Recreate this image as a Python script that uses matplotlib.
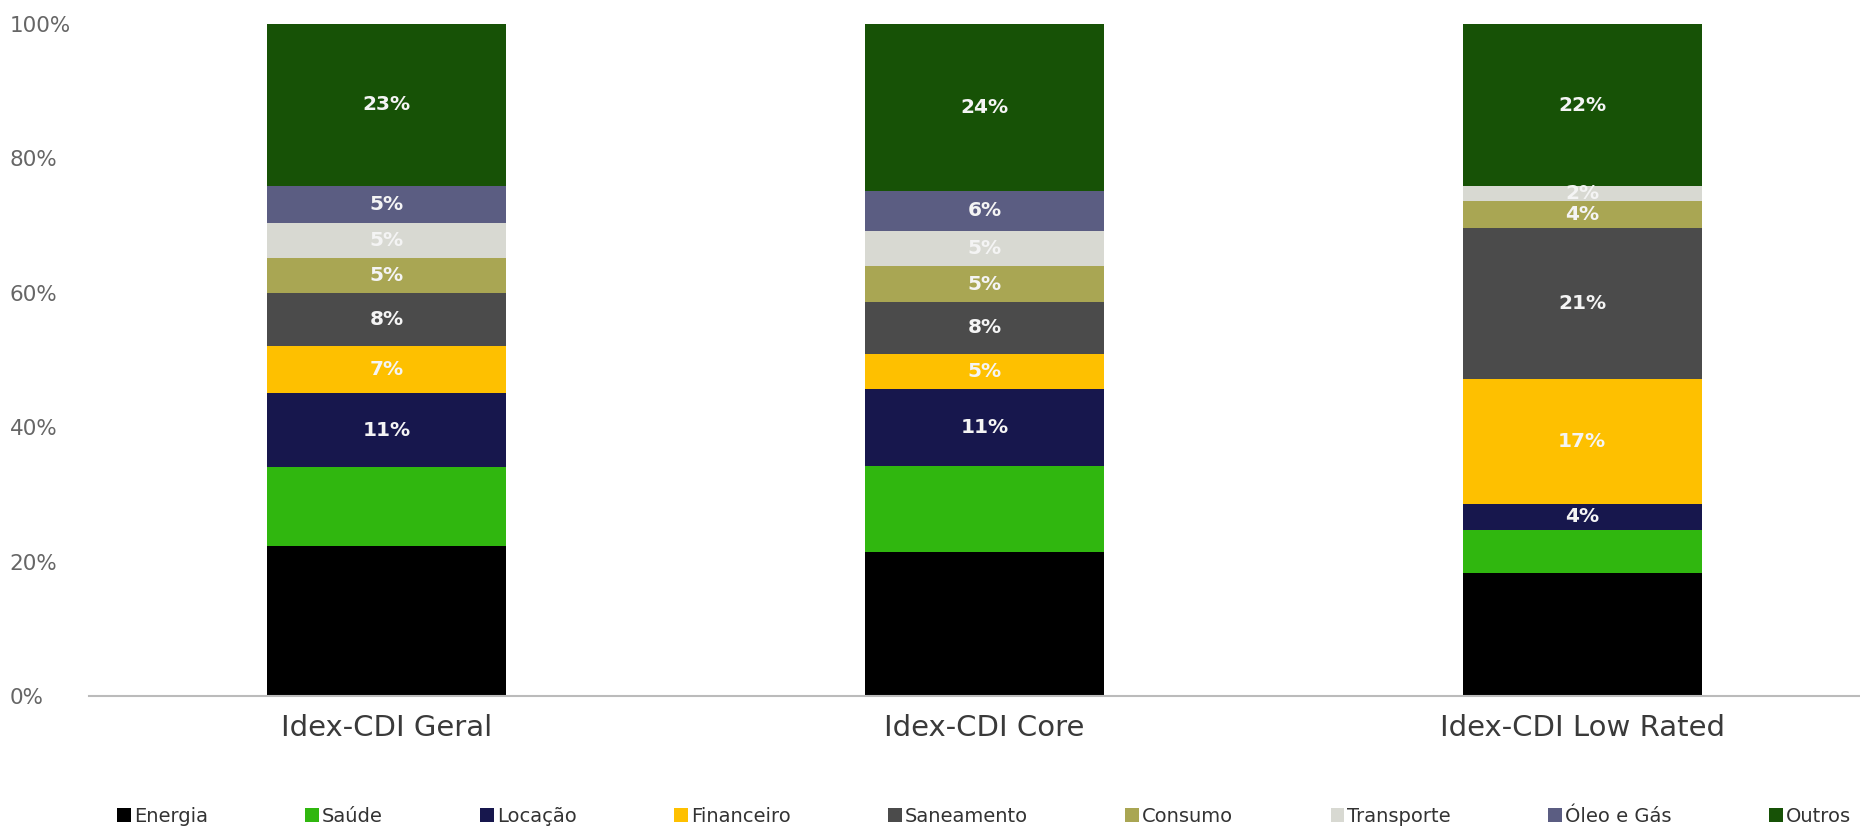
import numpy as np
import matplotlib
matplotlib.use("Agg")
import matplotlib.pyplot as plt

# dados (participação por setor, %)
indices = ["Idex-CDI Geral", "Idex-CDI Core", "Idex-CDI Low Rated"]
setores = ["Energia", "Saúde", "Locação", "Financeiro", "Saneamento",
           "Consumo", "Transporte", "Óleo e Gás", "Outros"]

energia = [21.5, 20.9, 17.0]
saude = [11.3, 12.5, 6.0]
locacao = [10.6, 11.2, 3.6]
financeiro = [6.8, 5.0, 17.2]
saneamento = [7.6, 7.6, 21.0]
consumo = [5.0, 5.1, 3.7]
transporte = [4.9, 5.2, 2.0]
oleo_gas = [5.4, 5.8, 0.0]
outros = [23.2, 24.2, 22.49]

# setores sem rótulo de valor no gráfico
sem_rotulo = ["Energia", "Saúde"]

cores = ["#000000", "#30B70F", "#17174D", "#FEC000", "#4B4B4B",
         "#A9A653", "#D8D9D2", "#5B5D82", "#175206"]

plt.rcParams['font.family'] = ['DejaVu Sans']

series = np.array([energia, saude, locacao, financeiro, saneamento,
                   consumo, transporte, oleo_gas, outros])
totais = series.sum(axis=0)
alturas = series / totais * 100

fig = plt.figure(figsize=(18.6, 8.3), dpi=100)
ax = fig.add_axes([0.0478, 0.1614, 0.9522, 0.81])

x = np.arange(len(indices))
base = np.zeros(len(indices))
for i, setor in enumerate(setores):
    ax.bar(x, alturas[i], width=0.40, bottom=base, color=cores[i], label=setor)
    if setor not in sem_rotulo:
        for j in range(len(indices)):
            if series[i, j] > 0:
                ax.text(x[j], base[j] + alturas[i, j] / 2, f"{round(series[i, j])}%",
                        ha='center', va='center', color='#F4F4F4',
                        fontsize=14.5, fontweight='bold')
    base += alturas[i]

ax.set_xlim(-0.4987, 2.465)
ax.set_ylim(0, 100)
ax.set_xticks(x)
ax.set_xticklabels(indices, fontsize=21, color='#3A3A3A')
ax.set_yticks(np.arange(0, 101, 20))
ax.set_yticklabels([f"{v}%" for v in range(0, 101, 20)], fontsize=15.5, color='#666666')
for lbl in ax.get_yticklabels():
    lbl.set_horizontalalignment('left')
ax.tick_params(axis='y', length=0, pad=57)
ax.tick_params(axis='x', length=0, pad=13)

for s in ['top', 'right', 'left']:
    ax.spines[s].set_visible(False)
ax.spines['bottom'].set_color('#BBBBBB')
ax.spines['bottom'].set_linewidth(1.5)

fig.legend(loc='center', bbox_to_anchor=(984 / 1860, 1 - 816 / 830), ncol=9,
           frameon=False, fontsize=14, handlelength=0.7, handleheight=0.7,
           handletextpad=0.15, columnspacing=5.02, labelcolor='#333333')

fig.savefig("out.png", dpi=100)
